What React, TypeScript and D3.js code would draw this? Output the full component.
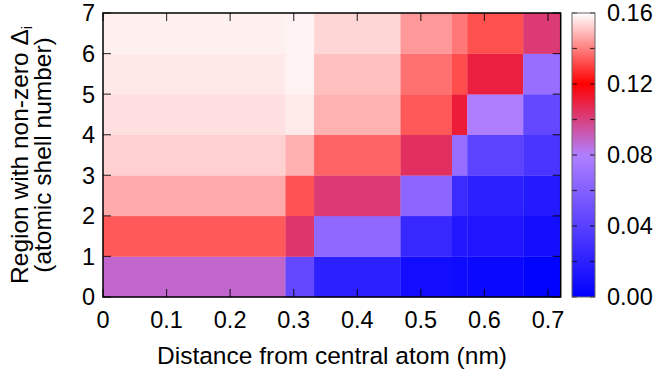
import React from "react";
import * as d3 from "d3";

const xEdges = [0, 0.287, 0.332, 0.468, 0.549, 0.573, 0.661, 0.72];
const shells = [0, 1, 2, 3, 4, 5, 6];
// values per shell row (row i spans [i, i+1]), one per x-cell
const row0 = [0.088, 0.045, 0.02, 0.008, 0.007, 0.005, 0.001];
const row1 = [0.134, 0.103, 0.065, 0.025, 0.015, 0.014, 0.009];
const row2 = [0.1467, 0.133, 0.102, 0.064, 0.027, 0.02, 0.016];
const row3 = [0.1526, 0.1476, 0.1357, 0.105, 0.068, 0.042, 0.033];
const row4 = [0.155, 0.1567, 0.148, 0.1338, 0.111, 0.079, 0.045];
const row5 = [0.1564, 0.158, 0.15, 0.1376, 0.132, 0.11, 0.069];
const row6 = [0.1576, 0.158, 0.1536, 0.144, 0.1387, 0.1325, 0.102];
const rows = [row0, row1, row2, row3, row4, row5, row6];

const xTicks = [0, 0.1, 0.2, 0.3, 0.4, 0.5, 0.6, 0.7];
const yTicks = [0, 1, 2, 3, 4, 5, 6, 7];
const cbLabels = [0, 0.04, 0.08, 0.12, 0.16];
const cbTicks = [0, 0.02, 0.04, 0.06, 0.08, 0.1, 0.12, 0.14, 0.16];
const colorStops = [0, 0.08, 0.12, 0.16];
const colorRange = ["#0000ff", "#b080ff", "#ff0000", "#ffffff"];

export default function App() {
  const W = 657, H = 378;
  const L = 103, R = 560.7, T = 13, B = 297;
  const x = d3.scaleLinear().domain([0, 0.72]).range([L, R]);
  const y = d3.scaleLinear().domain([0, 7]).range([B, T]);
  const color = d3.scaleLinear<string>().domain(colorStops).range(colorRange).interpolate(d3.interpolateRgb);
  const cbL = 572, cbR = 595;
  const cy = d3.scaleLinear().domain([0, 0.16]).range([B, T]);
  const font = "'Liberation Sans', Arial, Helvetica, sans-serif";
  const tickLen = 8;
  const fs = 23.5;
  const tfs = 24.5;

  const gradStops = d3.range(0, 1.0001, 0.05).map((t) => ({ t, c: color(t * 0.16) }));

  return (
    <svg width={W} height={H} style={{ position: "absolute", left: 0, top: 0, background: "#fff" }} fontFamily={font}>
      <defs>
        <linearGradient id="cbg" x1="0" y1="1" x2="0" y2="0">
          {gradStops.map((s, i) => (
            <stop key={i} offset={s.t} stopColor={s.c} />
          ))}
        </linearGradient>
      </defs>
      {rows.map((vals, ri) =>
        vals.map((v, ci) => (
          <rect
            key={`${ri}-${ci}`}
            x={x(xEdges[ci])}
            y={y(shells[ri] + 1)}
            width={x(xEdges[ci + 1]) - x(xEdges[ci]) + 0.3}
            height={y(shells[ri]) - y(shells[ri] + 1) + 0.3}
            fill={color(v)}
          />
        ))
      )}
      {/* ticks */}
      {xTicks.map((t) => (
        <g key={"xt" + t} stroke="#000" strokeOpacity={0.75} strokeWidth={1.2}>
          <line x1={x(t)} x2={x(t)} y1={B} y2={B - tickLen} />
          <line x1={x(t)} x2={x(t)} y1={T} y2={T + tickLen} />
        </g>
      ))}
      {yTicks.map((t) => (
        <g key={"yt" + t} stroke="#000" strokeOpacity={0.75} strokeWidth={1.2}>
          <line x1={L} x2={L + tickLen} y1={y(t)} y2={y(t)} />
          <line x1={R} x2={R - tickLen} y1={y(t)} y2={y(t)} />
        </g>
      ))}
      <rect x={L} y={T} width={R - L} height={B - T} fill="none" stroke="#000" strokeWidth={1.5} />
      {xTicks.map((t) => (
        <text key={"xl" + t} x={x(t)} y={328} fontSize={fs} textAnchor="middle" fill="#000">
          {t === 0 ? "0" : t.toFixed(1)}
        </text>
      ))}
      {yTicks.map((t) => (
        <text key={"yl" + t} x={95} y={y(t)} dy="0.36em" fontSize={fs} textAnchor="end" fill="#000">
          {t}
        </text>
      ))}
      <text x={332} y={364} fontSize={tfs} textAnchor="middle" fill="#000">
        Distance from central atom (nm)
      </text>
      <g transform={`translate(28,${(T + B) / 2}) rotate(-90)`}>
        <text x={0} y={0} fontSize={tfs} textAnchor="middle" fill="#000">
          Region with non-zero Δ
          <tspan fontSize={14} dy={4}>i</tspan>
        </text>
      </g>
      <g transform={`translate(51,${(T + B) / 2}) rotate(-90)`}>
        <text x={0} y={0} fontSize={tfs} textAnchor="middle" fill="#000">
          (atomic shell number)
        </text>
      </g>
      {/* colorbar */}
      <rect x={cbL} y={T} width={cbR - cbL} height={B - T} fill="url(#cbg)" />
      {cbTicks.map((t) => (
        <g key={"cbt" + t} stroke="#000" strokeOpacity={0.7} strokeWidth={1.2}>
          <line x1={cbL} x2={cbL + 5} y1={cy(t)} y2={cy(t)} />
          <line x1={cbR} x2={cbR - 5} y1={cy(t)} y2={cy(t)} />
        </g>
      ))}
      <rect x={cbL} y={T} width={cbR - cbL} height={B - T} fill="none" stroke="#666" strokeWidth={1} />
      {cbLabels.map((t) => (
        <text key={"cbl" + t} x={607} y={cy(t)} dy="0.36em" fontSize={fs} textAnchor="start" fill="#000">
          {t.toFixed(2)}
        </text>
      ))}
    </svg>
  );
}
